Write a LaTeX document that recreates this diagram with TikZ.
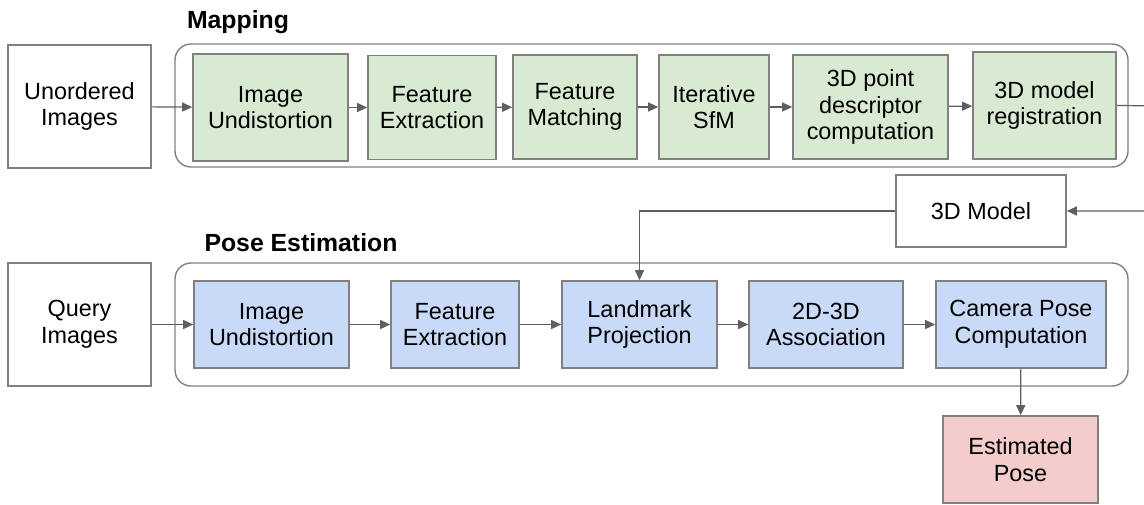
\documentclass[tikz,border=0pt]{standalone}
\usepackage{fontspec}
\setmainfont{Liberation Sans}
\usepackage{tikz}
\usetikzlibrary{arrows.meta}
\usetikzlibrary{positioning}
\definecolor{mapfill}{HTML}{D9EAD3}
\definecolor{posefill}{HTML}{C9DAF8}
\definecolor{outfill}{HTML}{F4CCCC}
\definecolor{boxline}{HTML}{808080}
\definecolor{arrowgray}{HTML}{5F5F5F}
\tikzset{
  stage/.style={draw=boxline, line width=0.8pt, align=center, inner sep=0pt},
  mapstage/.style={stage, fill=mapfill, minimum height=52pt},
  posestage/.style={stage, fill=posefill, minimum height=43.5pt},
  group/.style={draw=boxline, line width=0.7pt, rounded corners=8pt, minimum width=476.5pt, minimum height=61.5pt},
  flow/.style={draw=arrowgray, line width=0.6pt, -{Triangle[length=5pt, width=4.5pt]}},
  title/.style={font=\fontsize{12.4}{15}\selectfont\bfseries}
}

\begin{document}
\begin{tikzpicture}[x=0.5pt, y=-0.5pt]
\fontsize{11.7}{13.3}\selectfont
\useasboundingbox (0,0) rectangle (1144,504);
% mapping
\node[group] (mapgroup) at (651.5,105.5) {};
\node[title] (maptitle) at (238,22) {Mapping};
\node[stage, minimum width=71.5pt, minimum height=61.5pt] (unordered) at (79.5,106.5) {Unordered\\Images};
\node[mapstage, minimum width=77.5pt, minimum height=53.5pt] (mapundist) at (270.5,107.5) {Image\\Undistortion};
\node[mapstage, minimum width=64pt] (mapfeat) at (432,107.5) {Feature\\Extraction};
\node[mapstage, minimum width=62pt] (mapmatch) at (575,107) {Feature\\Matching};
\node[mapstage, minimum width=55pt] (sfm) at (714,107) {Iterative\\SfM};
\node[mapstage, minimum width=77.5pt] (descriptor) at (870.5,107) {3D point\\descriptor\\computation};
\node[mapstage, minimum width=71.5pt, minimum height=53.5pt] (register) at (1044.5,105.5) {3D model\\registration};
\node[stage, minimum width=85pt, minimum height=36pt] (model) at (981,211) {3D Model};
\coordinate (rightedge) at (1170,106);
% pose estimation
\node[group] (posegroup) at (651.5,324.5) {};
\node[title] (posetitle) at (301,243) {Pose Estimation};
\node[stage, minimum width=71.5pt, minimum height=61.5pt] (query) at (79.5,324.5) {Query\\Images};
\node[posestage, minimum width=77.5pt] (poseundist) at (271.5,324.5) {Image\\Undistortion};
\node[posestage, minimum width=64pt] (posefeat) at (455,324.5) {Feature\\Extraction};
\node[posestage, minimum width=77.5pt] (landmark) at (639.5,324.5) {Landmark\\Projection};
\node[posestage, minimum width=77pt] (assoc) at (826,324.5) {2D-3D\\Association};
\node[posestage, minimum width=85pt] (campose) at (1021,324.5) {Camera Pose\\Computation};
\node[stage, fill=outfill, minimum width=77.5pt, minimum height=43.5pt] (estpose) at (1020.5,459.5) {Estimated\\Pose};
% connections
\draw[flow] (unordered) -- (mapundist);
\draw[flow] (mapundist) -- (mapfeat);
\draw[flow] (mapfeat) -- (mapmatch);
\draw[flow] (mapmatch) -- (sfm);
\draw[flow] (sfm) -- (descriptor);
\draw[flow] (descriptor) -- (register);
\draw[flow] (register.east) -- (rightedge) |- (model.east);
\draw[flow] (model.west) -| (landmark.north);
\draw[flow] (query) -- (poseundist);
\draw[flow] (poseundist) -- (posefeat);
\draw[flow] (posefeat) -- (landmark);
\draw[flow] (landmark) -- (assoc);
\draw[flow] (assoc) -- (campose);
\draw[flow] (campose) -- (estpose);
\end{tikzpicture}
\end{document}
